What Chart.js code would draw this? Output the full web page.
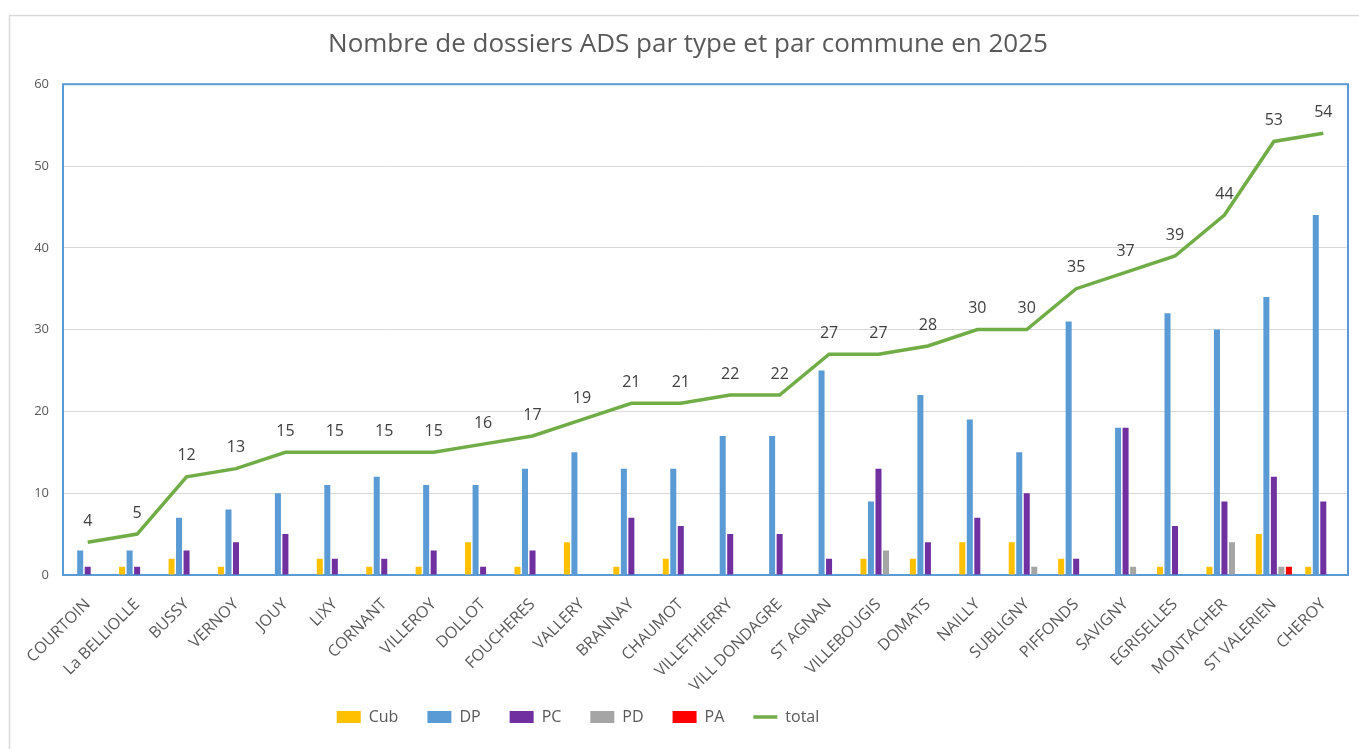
<!DOCTYPE html>
<html lang="fr">
<head>
<meta charset="utf-8">
<title>Nombre de dossiers ADS par type et par commune en 2025</title>
<script src="https://cdn.jsdelivr.net/npm/chart.js@4.4.1/dist/chart.umd.min.js"></script>
<style>
	html, body { margin: 0; padding: 0; background: #fff; }
	.chart-wrap { width: 1359px; height: 749px; position: relative; }
</style>
</head>
<body>
<div class="chart-wrap"><canvas id="adsChart"></canvas></div>
<script>
(function () {
	'use strict';

	var communes = [
		'COURTOIN', 'La BELLIOLLE', 'BUSSY', 'VERNOY', 'JOUY', 'LIXY', 'CORNANT',
		'VILLEROY', 'DOLLOT', 'FOUCHERES', 'VALLERY', 'BRANNAY', 'CHAUMOT',
		'VILLETHIERRY', 'VILL DONDAGRE', 'ST AGNAN', 'VILLEBOUGIS', 'DOMATS',
		'NAILLY', 'SUBLIGNY', 'PIFFONDS', 'SAVIGNY', 'EGRISELLES', 'MONTACHER',
		'ST VALERIEN', 'CHEROY'
	];
	var cub = [0, 1, 2, 1, 0, 2, 1, 1, 4, 1, 4, 1, 2, 0, 0, 0, 2, 2, 4, 4, 2, 0, 1, 1, 5, 1];
	var dp = [3, 3, 7, 8, 10, 11, 12, 11, 11, 13, 15, 13, 13, 17, 17, 25, 9, 22, 19, 15, 31, 18, 32, 30, 34, 44];
	var pc = [1, 1, 3, 4, 5, 2, 2, 3, 1, 3, 0, 7, 6, 5, 5, 2, 13, 4, 7, 10, 2, 18, 6, 9, 12, 9];
	var pd = [0, 0, 0, 0, 0, 0, 0, 0, 0, 0, 0, 0, 0, 0, 0, 0, 3, 0, 0, 1, 0, 1, 0, 4, 1, 0];
	var pa = [0, 0, 0, 0, 0, 0, 0, 0, 0, 0, 0, 0, 0, 0, 0, 0, 0, 0, 0, 0, 0, 0, 0, 0, 1, 0];
	var total = [4, 5, 12, 13, 15, 15, 15, 15, 16, 17, 19, 21, 21, 22, 22, 27, 27, 28, 30, 30, 35, 37, 39, 44, 53, 54];
	var yTicks = [0, 10, 20, 30, 40, 50, 60];

	var textGrey = '#595959';
	var fontFamily = '"Open Sans", "Noto Sans", sans-serif';

	// white page + light outer frame
	var frame = {
		id: 'frame',
		beforeDraw: function (chart) {
			var ctx = chart.ctx;
			ctx.save();
			ctx.fillStyle = '#fff';
			ctx.fillRect(0, 0, chart.width, chart.height);
			ctx.strokeStyle = '#d9d9d9';
			ctx.lineWidth = 1.5;
			ctx.strokeRect(9.5, 15.5, chart.width + 20, chart.height + 20);
			ctx.restore();
		},
		beforeDatasetsDraw: function (chart) {
			var a = chart.chartArea,
				ctx = chart.ctx;
			ctx.save();
			ctx.strokeStyle = '#5b9bd5';
			ctx.lineWidth = 2;
			ctx.strokeRect(a.left, a.top, a.right - a.left, a.bottom - a.top);
			ctx.restore();
		}
	};

	// values over the total line
	var totalLabels = {
		id: 'totalLabels',
		afterDatasetsDraw: function (chart) {
			var ctx = chart.ctx;
			chart.data.datasets.forEach(function (ds, i) {
				if (ds.type !== 'line') {
					return;
				}
				var meta = chart.getDatasetMeta(i);
				ctx.save();
				ctx.fillStyle = '#404040';
				ctx.font = '16px ' + fontFamily;
				ctx.textAlign = 'center';
				ctx.textBaseline = 'middle';
				meta.data.forEach(function (pt, j) {
					ctx.fillText(String(ds.data[j]), pt.x, pt.y - 21);
				});
				ctx.restore();
			});
		}
	};

	// title a bit right, legend left of centre, as in the original
	var boxShift = {
		id: 'boxShift',
		afterLayout: function (chart) {
			if (chart.legend) {
				chart.legend.left -= 96;
				chart.legend.right -= 96;
			}
			if (chart.titleBlock) {
				chart.titleBlock.left += 14;
				chart.titleBlock.right += 14;
			}
			// long rotated names would be clipped at the axis box bottom
			chart.scales.x.bottom += 40;
		}
	};

	function barSet(label, data, color) {
		return {
			type: 'bar',
			label: label,
			data: data,
			backgroundColor: color,
			borderWidth: 0,
			pointStyle: 'rect',
			categoryPercentage: 0.76,
			barPercentage: 0.8,
			order: 1
		};
	}

	new Chart(document.getElementById('adsChart'), {
		data: {
			labels: communes,
			datasets: [
				barSet('Cub', cub, '#ffc000'),
				barSet('DP', dp, '#5b9bd5'),
				barSet('PC', pc, '#7030a0'),
				barSet('PD', pd, '#a5a5a5'),
				barSet('PA', pa, '#ff0000'),
				{
					type: 'line',
					label: 'total',
					data: total,
					borderColor: '#70ad47',
					backgroundColor: '#70ad47',
					borderWidth: 3.5,
					pointRadius: 0,
					pointStyle: 'line',
					tension: 0,
					order: 0
				}
			]
		},
		options: {
			responsive: true,
			maintainAspectRatio: false,
			animation: false,
			layout: {
				padding: { left: 0, right: 11, top: 0, bottom: 14 }
			},
			plugins: {
				title: {
					display: true,
					text: 'Nombre de dossiers ADS par type et par commune en 2025',
					color: textGrey,
					font: { family: fontFamily, size: 26, weight: 'normal' },
					padding: { top: 29, bottom: 24 }
				},
				legend: {
					position: 'bottom',
					labels: {
						color: textGrey,
						font: { family: fontFamily, size: 16 },
						usePointStyle: true,
						pointStyleWidth: 24,
						boxWidth: 24,
						boxHeight: 12,
						padding: 29,
						sort: function (a, b) {
							return a.datasetIndex - b.datasetIndex;
						}
					}
				},
				tooltip: { enabled: false }
			},
			scales: {
				x: {
					grid: { display: false },
					border: { display: false },
					ticks: {
						color: textGrey,
						font: { family: fontFamily, size: 16 },
						minRotation: 45,
						maxRotation: 45,
						autoSkip: false,
						padding: 12
					},
					afterFit: function (scale) {
						scale.height = 105;
					}
				},
				y: {
					min: 0,
					max: 60,
					afterBuildTicks: function (scale) {
						scale.ticks = yTicks.map(function (v) {
							return { value: v };
						});
					},
					grid: { color: '#d9d9d9', lineWidth: 1, drawTicks: false },
					border: { display: false },
					ticks: {
						color: textGrey,
						font: { family: fontFamily, size: 13 },
						padding: 14
					},
					afterFit: function (scale) {
						scale.width = 63;
					}
				}
			}
		},
		plugins: [frame, totalLabels, boxShift]
	});
})();
</script>
</body>
</html>
